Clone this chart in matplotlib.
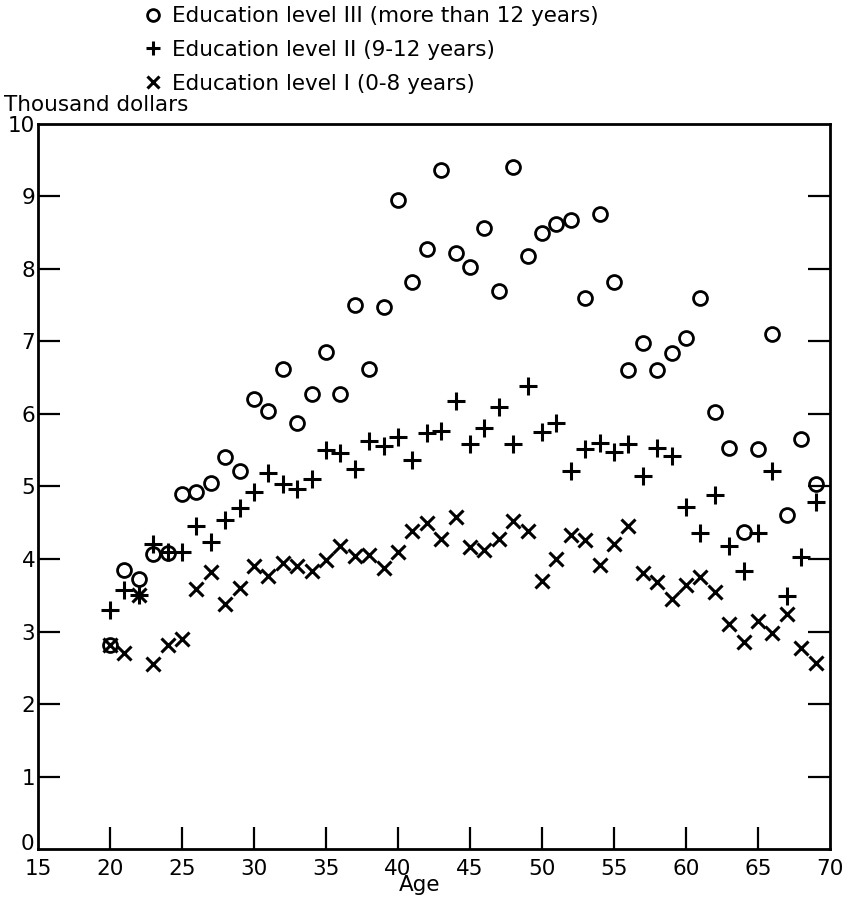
import numpy as np
import matplotlib
matplotlib.use("Agg")
import matplotlib.pyplot as plt
import matplotlib.transforms as mtransforms

plt.rcParams['font.family'] = ['DejaVu Sans']

ages = list(range(20, 70))

# education level III (more than 12 years)
level3 = [2.82, 3.85, 3.72, 4.07, 4.08, 4.90, 4.92, 5.05, 5.40, 5.22,
          6.20, 6.04, 6.62, 5.87, 6.28, 6.85, 6.28, 7.50, 6.62, 7.47,
          8.95, 7.82, 8.28, 9.36, 8.22, 8.03, 8.56, 7.70, 9.40, 8.18,
          8.50, 8.62, 8.67, 7.60, 8.76, 7.82, 6.60, 6.98, 6.60, 6.84,
          7.05, 7.60, 6.03, 5.53, 4.37, 5.52, 7.10, 4.60, 5.66, 5.03]

# education level II (9-12 years)
level2 = [3.30, 3.57, 3.50, 4.21, 4.10, 4.10, 4.46, 4.24, 4.54, 4.70,
          4.93, 5.19, 5.04, 4.97, 5.10, 5.51, 5.46, 5.24, 5.63, 5.56,
          5.68, 5.36, 5.74, 5.76, 6.18, 5.58, 5.80, 6.10, 5.58, 6.39,
          5.75, 5.88, 5.22, 5.52, 5.60, 5.47, 5.59, 5.15, 5.53, 5.42,
          4.72, 4.36, 4.88, 4.18, 3.84, 4.36, 5.22, 3.49, 4.03, 4.78]

# education level I (0-8 years)
level1 = [2.82, 2.70, 3.50, 2.55, 2.82, 2.90, 3.58, 3.82, 3.38, 3.60,
          3.90, 3.76, 3.94, 3.90, 3.83, 3.99, 4.18, 4.04, 4.06, 3.88,
          4.10, 4.38, 4.50, 4.27, 4.58, 4.17, 4.13, 4.28, 4.52, 4.38,
          3.70, 4.00, 4.33, 4.26, 3.92, 4.20, 4.45, 3.80, 3.68, 3.45,
          3.64, 3.75, 3.55, 3.10, 2.85, 3.15, 2.98, 3.24, 2.77, 2.57]

labels = ['Education level III (more than 12 years)',
          'Education level II (9-12 years)',
          'Education level I (0-8 years)']

fig = plt.figure(figsize=(8.48, 9.01), dpi=100)
ax = fig.add_axes([0.0448, 0.0577, 0.934, 0.8047])

h3, = ax.plot(ages, level3, 'o', ms=10, mfc='none', mec='black', mew=2.0, ls='none')
h2, = ax.plot(ages, level2, '+', ms=12.5, mec='black', mew=2.2, ls='none')
h1, = ax.plot(ages, level1, 'x', ms=10.5, mec='black', mew=2.2, ls='none')

ax.set_xlim(15, 70)
ax.set_ylim(0, 10)
ax.set_xticks(range(15, 71, 5))
ax.set_yticks(range(0, 11))
for s in ax.spines.values():
    s.set_linewidth(2.0)
ax.tick_params(axis='both', direction='in', length=16, width=1.6,
               labelsize=15.5)
ax.tick_params(axis='y', right=True, pad=2)
ax.tick_params(axis='x', pad=7)
# no ticks at the ends (15/70 and 0/10 sit on the frame)
for t in ax.xaxis.get_major_ticks()[0::11]:
    t.tick1line.set_visible(False)
for t in ax.yaxis.get_major_ticks()[0::10]:
    t.tick1line.set_visible(False)
    t.tick2line.set_visible(False)

# lift the "0" a little so it clears the "15" below the corner
fig.canvas.draw()
zero = ax.yaxis.get_major_ticks()[0].label1
zero.set_transform(zero.get_transform() +
                   mtransforms.ScaledTranslation(-1 / 72, 5 / 72, fig.dpi_scale_trans))

ax.set_xlabel('Age', fontsize=15.5, labelpad=-3, x=0.482)
fig.text(0.005, 0.872, 'Thousand dollars', fontsize=15.5, ha='left', va='bottom')

fig.legend([h3, h2, h1], labels, loc='upper left', bbox_to_anchor=(0.153, 1.010),
           frameon=False, fontsize=15.5, handlelength=0.8, handletextpad=0.45,
           labelspacing=0.64, borderpad=0.2, markerscale=0.85)

fig.savefig('out.png', dpi=100)
